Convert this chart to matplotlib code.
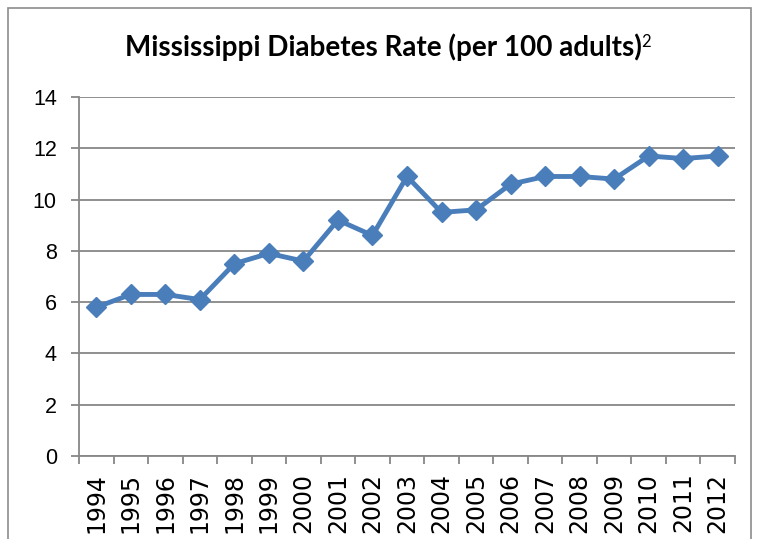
import matplotlib
matplotlib.use("Agg")
import matplotlib.pyplot as plt
from matplotlib.patches import Rectangle

years = ["1994", "1995", "1996", "1997", "1998", "1999", "2000", "2001", "2002", "2003",
         "2004", "2005", "2006", "2007", "2008", "2009", "2010", "2011", "2012"]
rates = [5.8, 6.3, 6.3, 6.1, 7.5, 7.9, 7.6, 9.2, 8.6, 10.9,
         9.5, 9.6, 10.6, 10.9, 10.9, 10.8, 11.7, 11.6, 11.7]
yticks = [0, 2, 4, 6, 8, 10, 12, 14]
title = "Mississippi Diabetes Rate (per 100 adults)"
title_sup = "2"

W, H = 757, 539
fig = plt.figure(figsize=(W / 100, H / 100), dpi=100)
fig.patch.set_facecolor("white")

# outer chart border
fig.add_artist(Rectangle((8 / W, -0.02), (751 - 8) / W, 1 - 8 / H + 0.02,
                         transform=fig.transFigure, fill=False,
                         edgecolor="#8c8c8c", linewidth=1.2))

ax = fig.add_axes([79 / W, 1 - 456 / H, (735 - 79) / W, (456 - 97) / H])
n = len(years)
x = list(range(n))
ax.plot(x, rates, color="#4a7ebb", linewidth=3.5, marker="D", markersize=10.5,
        markerfacecolor="#4a7ebb", markeredgecolor="#4a7ebb", solid_joinstyle="round",
        zorder=3)

ax.set_xlim(-0.5, n - 0.5)
ax.set_ylim(0, 14)
ax.set_yticks(yticks)
ax.set_yticklabels([str(v) for v in yticks], fontsize=15.5, family="Liberation Sans")
ax.yaxis.grid(True, color="#878787", linewidth=1.3)
ax.set_axisbelow(True)

ax.set_xticks(x)
ax.set_xticklabels(years, rotation=90, fontsize=17, family="DejaVu Sans")
ax.set_xticks([i - 0.5 for i in range(n + 1)], minor=True)
ax.tick_params(axis="x", which="major", length=0, pad=12)
ax.tick_params(axis="x", which="minor", length=6, color="#878787", width=1.3)
ax.tick_params(axis="y", length=6, color="#878787", width=1.3, pad=10)

for s in ["top", "right"]:
    ax.spines[s].set_visible(False)
for s in ["left", "bottom"]:
    ax.spines[s].set_color("#878787")
    ax.spines[s].set_linewidth(1.3)

t = fig.text(0.506, 1 - 47 / H, title, ha="center", va="center",
             fontsize=20, fontweight="bold", family="Lato")
ax.annotate(title_sup, xy=(1.0, 0.98), xycoords=t, ha="left", va="top",
            fontsize=12, family="Lato")

fig.savefig("out.png", dpi=100)
